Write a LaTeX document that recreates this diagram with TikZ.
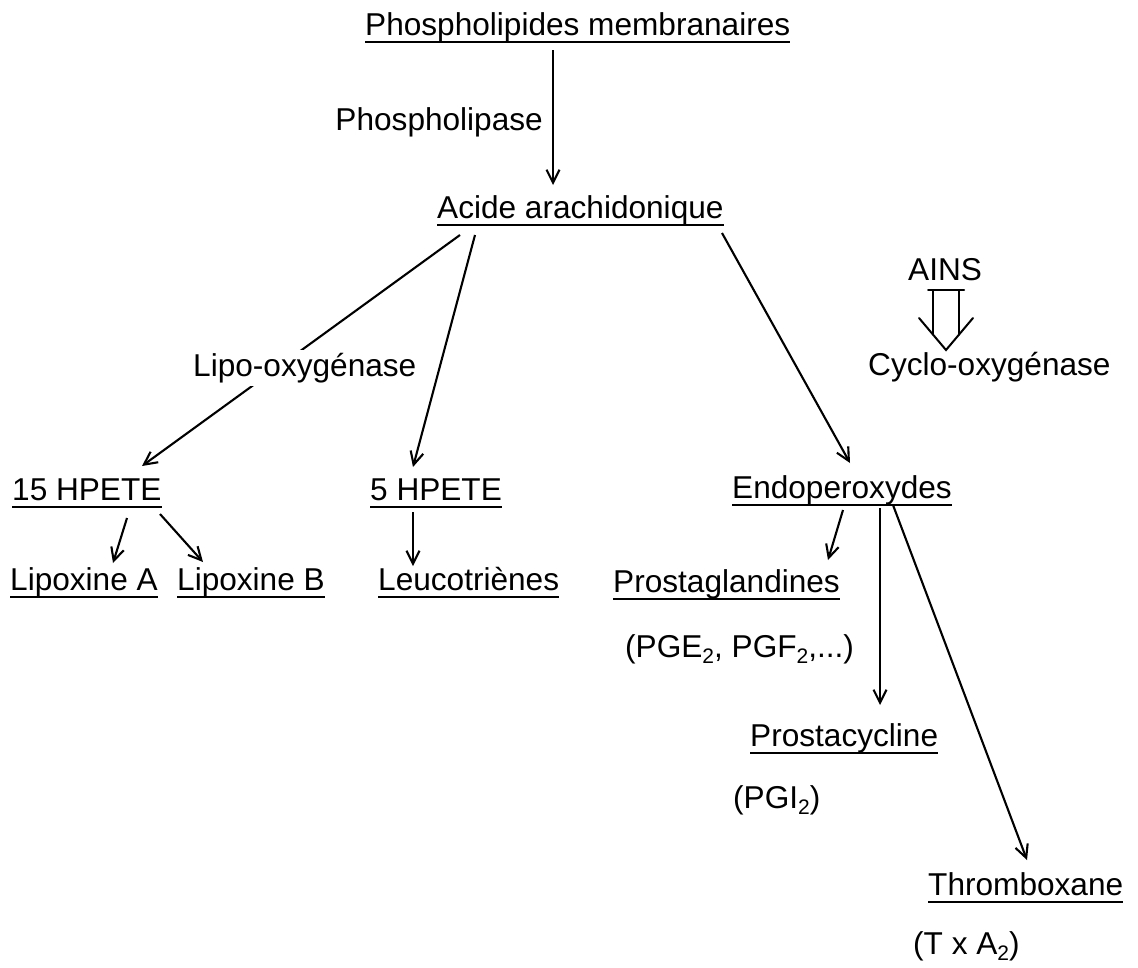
\documentclass[tikz,border=0pt]{standalone}
\usepackage{fontspec}
\setmainfont{Liberation Sans}
\usetikzlibrary{arrows.meta,calc}
\newcommand\mysub[1]{\raisebox{-0.22em}{\fontsize{21}{21}\selectfont #1}}
\begin{document}
\begin{tikzpicture}[x=1pt,y=-1pt,
  txt/.style={inner sep=0pt, anchor=base west, font=\fontsize{31.6}{38}\selectfont},
  ulline/.style={line width=2.4pt},
  arr/.style={line width=2.1pt, -{Straight Barb[length=13pt,width=13pt]}},
  hollow/.style={line width=2pt, line cap=round}]
\useasboundingbox (0,0) rectangle (1138,967);
% texts
\node[txt] (phos) at (365,35) {Phospholipides membranaires};
\node[txt,anchor=base east] (plase) at (543,130) {Phospholipase};
\node[txt] (acide) at (437,218) {Acide arachidonique};
\node[txt] (ains) at (908,280) {AINS};
\node[txt] (cyclo) at (868,375) {Cyclo-oxygénase};
\node[txt] (h15) at (12,500) {15 HPETE};
\node[txt] (h5) at (370,500) {5 HPETE};
\node[txt] (endo) at (732,498) {Endoperoxydes};
\node[txt] (lxa) at (10,590) {Lipoxine A};
\node[txt] (lxb) at (177,590) {Lipoxine B};
\node[txt] (leuco) at (378,590) {Leucotriènes};
\node[txt] (pg) at (613,592) {Prostaglandines};
\node[txt] (pge) at (625,657) {(PGE\mysub{2}, PGF\mysub{2},...)};
\node[txt] (pc) at (750,746) {Prostacycline};
\node[txt] (pgi) at (733,808) {(PGI\mysub{2})};
\node[txt] (tx) at (928,895) {Thromboxane};
\node[txt] (txa) at (913,954) {(T x A\mysub{2})};
% underlines
\foreach \n in {phos,acide,h15,h5,endo,lxa,lxb,leuco,pg,pc,tx}
  \draw[ulline] ($(\n.base west)+(0,7)$) -- ($(\n.base east)+(0,7)$);
% connectors
\draw[arr] ($(phos.base west)+(188,15)$) -- ($(acide.base west)+(116,-33)$);
\draw[arr] ($(acide.base west)+(23,17)$) -- ($(h15.base west)+(130,-34)$);
\draw[arr] ($(acide.base west)+(38,17)$) -- ($(h5.base west)+(43,-33)$);
\draw[arr] ($(acide.base west)+(285,15)$) -- ($(endo.base west)+(118,-35)$);
\draw[arr] ($(h15.base west)+(115,18)$) -- ($(lxa.base west)+(103,-27)$);
\draw[arr] ($(h15.base west)+(148,14)$) -- ($(lxb.base west)+(26,-28)$);
\draw[arr] ($(h5.base west)+(43,12)$) -- ($(leuco.base west)+(35,-24)$);
\draw[arr] ($(endo.base west)+(111,12)$) -- ($(pg.base west)+(215,-32)$);
\draw[arr] ($(endo.base west)+(148,10)$) -- ($(pc.base west)+(130,-41)$);
\draw[arr] ($(endo.base west)+(161,7)$) -- ($(tx.base west)+(99,-35)$);
% enzyme label drawn over the line it interrupts
\node[txt, fill=white, inner xsep=1pt, inner ysep=3pt] (lipo) at (192,376) {Lipo-oxygénase};
% hollow arrow AINS -> Cyclo-oxygenase
\coordinate (h) at ($(ains.base west)+(38,10)$);
\draw[hollow] ($(h)+(-18,0)$) -- ($(h)+(18,0)$);
\draw[hollow] ($(h)+(-13,0)$) -- ($(h)+(-13,44.6)$);
\draw[hollow] ($(h)+(13,0)$) -- ($(h)+(13,44.6)$);
\draw[hollow] ($(h)+(-27,28)$) -- ($(h)+(0,60)$) -- ($(h)+(27,28)$);
\end{tikzpicture}
\end{document}
